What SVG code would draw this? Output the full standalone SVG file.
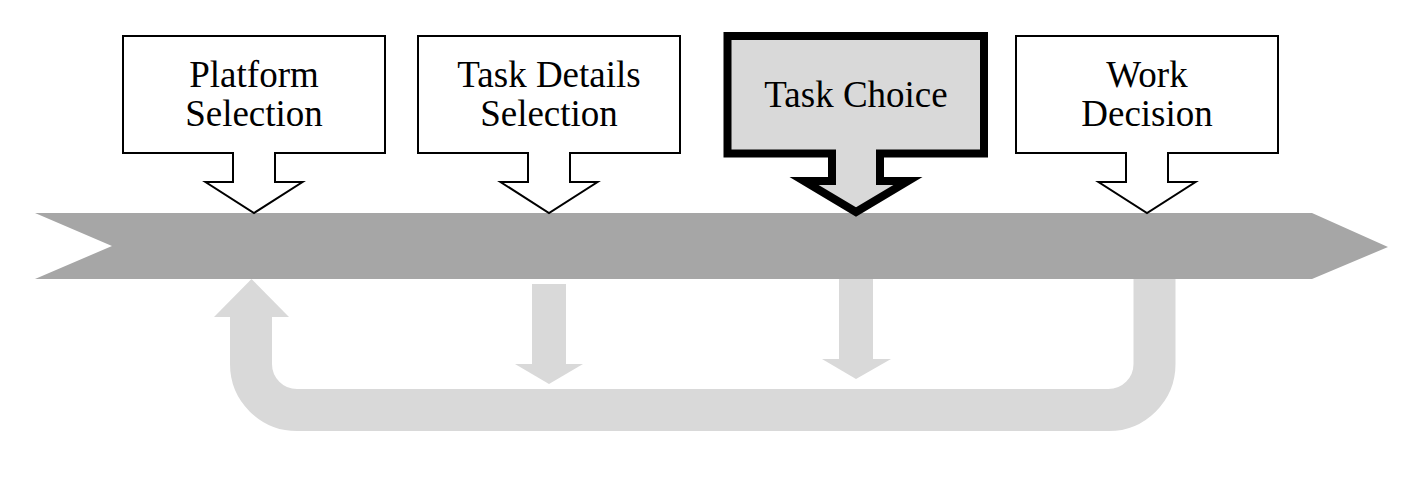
<svg xmlns="http://www.w3.org/2000/svg" width="1418" height="478" viewBox="0 0 1418 478">
<style>
.call{fill:#fff;stroke:#000;stroke-width:2;stroke-linejoin:miter}
.bold{fill:#d9d9d9;stroke:#000;stroke-width:8;stroke-linejoin:miter}
.lbl{font-family:"Liberation Serif","Times New Roman",serif;font-size:37px;fill:#000;text-anchor:middle}
.light{fill:#d9d9d9}
</style>
<rect width="1418" height="478" fill="#fff"/>
<g id="connectors">
<path d="M251 316 V364 A46 46 0 0 0 297 410 H1108 A46 46 0 0 0 1154.5 364 V270" fill="none" stroke="#d9d9d9" stroke-width="42"/>
<polygon class="light" points="214,317 289,317 251.5,279"/>
<rect class="light" x="532" y="284" width="34" height="81"/>
<polygon class="light" points="515,364 583,364 549,384"/>
<rect class="light" x="839" y="270" width="34" height="90"/>
<polygon class="light" points="822,359 891,359 856,379"/>
</g>
<g id="timeline">
<polygon points="35,213 1312,213 1388,247 1312,279 35,279 112,246" fill="#a6a6a6"/>
</g>
<g id="platform-selection">
<path class="call" d="M123 36 H385 V153 H275 V182 H302.5 L254 213 L205.5 182 H233 V153 H123 Z"/>
<text class="lbl" x="254" y="87">Platform</text>
<text class="lbl" x="254" y="126">Selection</text>
</g>
<g id="task-details-selection">
<path class="call" d="M418 36 H680 V153 H570 V182 H597.5 L549 213 L500.5 182 H528 V153 H418 Z"/>
<text class="lbl" x="549" y="87">Task Details</text>
<text class="lbl" x="549" y="126">Selection</text>
</g>
<g id="task-choice">
<path class="bold" d="M727.5 36 H984 V153.5 H880 V181 H908 L856 212 L804 181 H832 V153.5 H727.5 Z"/>
<text class="lbl" x="856" y="107">Task Choice</text>
</g>
<g id="work-decision">
<path class="call" d="M1016 36 H1278 V153 H1168 V182 H1195.5 L1147 213 L1098.5 182 H1126 V153 H1016 Z"/>
<text class="lbl" x="1147" y="87">Work</text>
<text class="lbl" x="1147" y="126">Decision</text>
</g>
</svg>
